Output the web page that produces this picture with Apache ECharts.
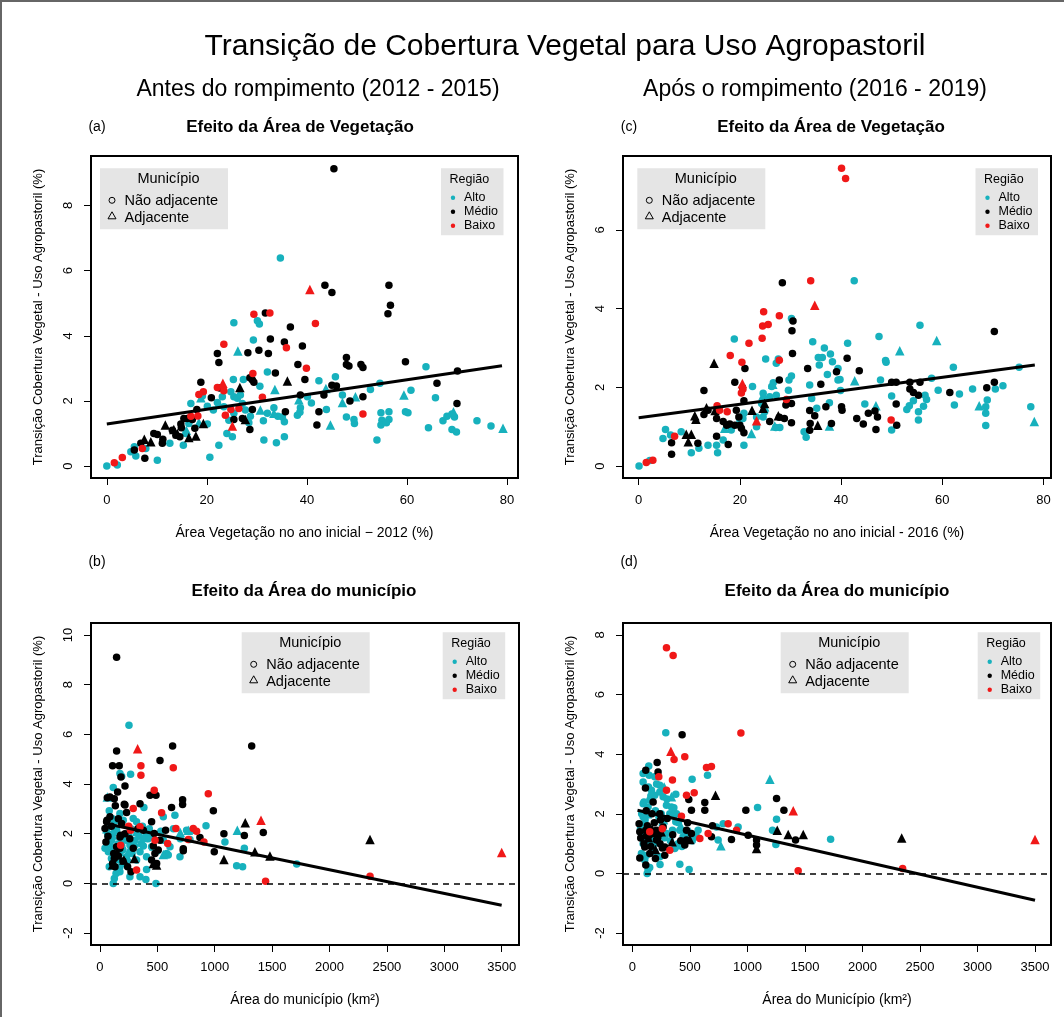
<!DOCTYPE html>
<html><head><meta charset="utf-8">
<script src="https://cdn.jsdelivr.net/npm/echarts@6/dist/echarts.min.js"></script>
<style>html,body{margin:0;padding:0;background:#fff}#c{width:1064px;height:1017px}</style>
</head><body><div id="c"></div><script>
// ---------- Panel (a): before, vegetation area (%) vs transition (%) ----------
var aAltoNA = [[34.7,6.39],[25.4,4.40],[30.1,4.46],[30.5,4.36],[29.3,3.87],[32.1,2.89],[25.3,2.66],[27.3,2.66],[30.6,2.45],[42.4,2.62],[45.7,2.74],[63.8,3.05],[54.6,2.54],[52.7,2.35],[60.8,2.33],[65.7,2.1],[40.9,1.94],[47.1,2.18],[38.7,1.79],[38.1,1.56],[38.6,1.65],[43.9,1.74],[40.1,2.13],[33.4,1.79],[32.1,1.62],[34.2,1.53],[35.5,1.36],[35.1,1.51],[31.3,1.39],[47.9,1.51],[49.4,1.43],[49.5,1.31],[54.8,1.64],[56.4,1.67],[55.0,1.41],[54.8,1.26],[56.4,1.43],[55.9,1.33],[59.7,1.67],[60.2,1.64],[54.0,0.8],[64.3,1.18],[67.2,1.39],[68.0,1.53],[69.0,1.6],[69.5,1.51],[69.0,1.12],[69.9,1.05],[74.0,1.39],[76.8,1.23],[31.4,0.8],[33.9,0.72],[35.5,0.9],[24.0,1.0],[25.1,0.9],[22.4,0.64],[20.6,0.27],[10.1,0.18],[5.8,0.31],[0,0],[2.1,0.03],[4.8,0.44],[5.5,0.59],[7.8,0.54],[12.6,0.7],[15.3,0.64],[16.4,1.31],[15.8,1.0],[16.8,1.92],[19.1,2.15],[20.1,1.84],[21.3,1.72],[22.1,1.95],[23.4,1.82],[23.1,2.13],[24.8,2.28],[25.4,2.13],[26.1,2.08],[26.7,2.18],[27.1,1.92],[25.4,1.62],[24.4,1.41],[28.4,1.33],[28.7,1.53],[20.1,1.29],[27.7,1.72]];
var aAltoA = [[26.2,3.53],[33.6,2.35],[30.7,1.72],[33.4,1.62],[38.4,2.04],[43.8,2.38],[47.1,1.95],[49.7,2.13],[59.4,2.18],[69.3,1.67],[79.2,1.16],[44.7,1.26],[18.8,2.1],[22.4,1.92],[15.9,1.1],[18.4,1.34]];
var aMedioNA = [[45.4,9.13],[43.6,5.55],[45.0,5.33],[56.4,5.55],[56.7,4.94],[56.2,4.68],[31.7,4.70],[36.7,4.27],[32.7,3.9],[35.5,3.81],[39.1,3.69],[30.4,3.56],[28.2,3.48],[32.3,3.46],[22.1,3.46],[22.4,3.18],[33.7,2.86],[38.2,3.12],[47.9,3.33],[47.9,3.12],[48.4,3.07],[50.8,3.12],[51.2,3.03],[59.7,3.2],[66.0,2.54],[70.1,2.92],[70.0,1.92],[39.6,2.66],[28.6,2.71],[29.1,2.64],[29.4,2.57],[18.8,2.57],[22.6,2.40],[20.9,2.1],[38.7,2.18],[43.4,2.18],[45.0,2.48],[45.9,2.46],[51.2,2.13],[48.6,2.0],[35.7,1.67],[29.1,1.74],[42.4,1.67],[42.0,1.26],[25.4,1.43],[27.1,1.46],[28.6,1.12],[18.0,1.74],[17.6,1.16],[14.8,1.29],[15.4,1.46],[16.1,1.46],[17.1,1.43],[11.2,0.82],[11.1,0.70],[10.1,0.97],[9.4,1.0],[5.5,0.49],[7.6,0.24],[6.8,0.70],[13.1,1.1],[13.8,0.95],[14.6,0.9],[14.9,1.18]];
var aMedioA = [[26.6,2.41],[36.1,2.61],[7.5,0.82],[8.8,0.75],[11.7,1.26],[13.4,1.12],[14.1,1.0],[17.8,0.92],[19.3,1.31],[16.4,0.88],[27.7,1.43]];
var aBaixoNA = [[32.6,4.70],[29.4,4.66],[41.7,4.38],[23.4,3.74],[35.9,3.63],[39.9,3.0],[29.2,2.84],[22.1,2.41],[23.4,2.31],[19.3,2.28],[18.4,2.2],[31.1,2.11],[26.4,1.77],[24.8,1.74],[23.7,1.56],[51.2,1.6],[18.2,1.54],[16.8,1.53],[1.5,0.1],[3.1,0.26],[7.1,0.54]];
var aBaixoA = [[40.6,5.42],[23.2,2.54],[25.1,1.23]];
var fitA = [[0,1.29],[79,3.08]];

// ---------- Panel (b): before, municipality area (km2) ----------
var bAltoNA = [[253,6.36],[267,4.39],[174,4.42],[189,4.31],[116,3.86],[383,3.05],[653,2.74],[552,2.68],[924,2.32],[1089,1.67],[1191,0.71],[1243,0.67],[1714,0.78],[1258,1.41],[81,2.92],[174,2.81],[203,2.54],[290,2.61],[319,2.48],[67,2.01],[102,1.74],[73,1.27],[81,0.67],[125,0.2],[174,0.67],[174,0.47],[261,0.27],[349,0.27],[400,0.16],[406,0.56],[488,0.0],[116,0.0],[406,1.07],[349,1.27],[450,1.47],[552,1.74],[581,1.2],[595,1.14],[610,1.47],[697,1.07],[784,1.77],[755,2.14],[813,2.14],[406,2.01],[378,1.5],[305,1.74],[261,1.54],[116,1.41],[174,1.2],[232,1.07],[145,2.14],[73,1.87],[116,2.01],[232,1.74],[87,1.54],[44,1.41],[145,1.07],[203,0.8],[319,0.94],[90,2.3],[130,2.5],[160,1.6],[200,1.35],[220,1.9],[250,2.0],[280,1.2],[340,1.9],[370,2.3],[430,2.2],[500,1.3],[530,2.1],[100,1.0],[60,1.6],[140,0.4],[240,0.9],[300,1.5],[360,1.6],[270,2.2],[190,1.5],[110,2.6],[420,1.8],[640,2.2],[700,1.8]];
var bAltoA = [[64,3.48],[1197,2.14],[770,2.14],[552,1.16],[378,1.85],[436,1.94],[150,1.0],[250,1.3],[320,2.1],[200,1.8],[470,1.5],[110,1.95],[60,2.2],[700,2.05],[300,1.65]];
var bMedioNA = [[145,9.1],[145,5.33],[633,5.53],[1322,5.53],[523,4.95],[110,4.73],[168,4.73],[183,4.28],[218,3.92],[154,3.68],[87,3.48],[125,3.41],[64,3.45],[349,3.21],[488,3.55],[436,3.55],[720,3.37],[720,3.17],[624,3.05],[988,2.92],[218,3.15],[232,2.85],[1080,2.0],[1258,1.93],[1423,2.05],[572,2.14],[871,1.85],[996,1.27],[726,1.39],[726,1.31],[189,2.41],[180,1.94],[87,2.68],[58,2.48],[44,2.21],[52,1.67],[174,1.41],[290,1.41],[450,2.48],[473,2.01],[465,1.5],[479,1.2],[450,0.94],[494,0.8],[131,0.67],[125,1.0],[145,1.47],[241,0.67],[270,0.47],[508,1.34],[523,1.74],[378,2.14],[174,1.87],[218,2.0],[134,3.12],[212,3.19],[61,2.54],[100,2.3],[120,1.2],[160,1.1],[200,0.9],[110,0.8],[260,1.8],[330,2.2],[70,1.9],[160,2.6]];
var bMedioA = [[2353,1.77],[1266,2.44],[1080,0.96],[1350,1.27],[1481,1.1],[209,0.94],[494,0.74],[465,0.8],[110,0.75],[150,1.25],[300,1.0]];
var bBaixoNA = [[357,4.73],[357,4.35],[639,4.65],[473,3.75],[944,3.61],[290,3.01],[537,2.84],[662,2.21],[813,2.21],[842,2.1],[590,1.61],[349,2.28],[319,0.54],[1443,0.09],[2353,0.29],[906,1.67],[267,2.14],[770,1.77],[180,1.53],[480,1.74],[250,2.3]];
var bBaixoA = [[328,5.42],[1403,2.54],[3500,1.24]];
var fitB = [[44,2.41],[3500,-0.88]];

// ---------- Panel (c): after, vegetation area (%) ----------
var cAltoNA = [[42.6,4.71],[55.6,3.58],[30.2,3.75],[34.4,3.16],[41.3,3.12],[47.5,3.29],[18.9,3.23],[36.7,3.0],[25.1,2.72],[27.6,2.72],[35.5,2.76],[36.3,2.76],[37.9,2.85],[38.3,2.65],[35.7,2.57],[27.2,2.61],[39.4,2.48],[37.3,2.33],[48.9,2.64],[48.8,2.68],[47.8,2.19],[39.8,2.2],[62.2,2.51],[75.2,2.51],[57.9,2.23],[59.2,1.93],[66.0,1.96],[63.4,1.83],[72.0,2.04],[70.5,1.96],[68.9,1.68],[68.6,1.51],[68.6,1.34],[68.6,1.03],[77.5,1.51],[62.4,1.55],[56.6,1.8],[56.9,1.69],[56.3,1.52],[55.3,1.38],[55.3,1.17],[54.3,1.66],[53.5,1.53],[53.0,1.44],[50.0,1.78],[50.0,0.92],[44.7,1.58],[39.9,1.92],[39.4,2.19],[33.8,2.06],[34.2,1.72],[35.2,1.47],[37.7,1.61],[32.7,0.87],[33.1,0.73],[29.7,2.19],[30.2,2.29],[29.6,1.93],[27.2,1.8],[26.6,2.12],[26.3,2.02],[25.9,1.76],[24.6,1.85],[22.5,2.02],[27.1,0.98],[27.9,0.98],[20.8,0.53],[20.6,1.21],[20.8,1.34],[20.0,1.17],[13.7,0.53],[15.6,0.34],[15.4,0.53],[10.4,0.34],[11.9,0.45],[8.4,0.87],[5.3,0.93],[6.3,0.79],[4.8,0.7],[0.07,0],[2.2,0.14],[16.7,0.66],[18.3,0.92],[23.3,1.0],[23.3,1.25],[24.6,1.25],[24.9,1.38],[24.3,1.59]];
var cAltoA = [[58.9,3.19],[51.6,2.93],[42.7,2.17],[46.9,1.53],[67.3,1.53],[78.2,1.13],[37.7,1.02],[26.9,1.02],[22.3,0.83],[17.0,0.96],[24.6,1.8],[24.9,1.51],[26.5,2.08]];
var cMedioNA = [[28.4,4.66],[30.5,3.69],[30.3,3.44],[30.4,2.86],[70.3,3.42],[41.2,2.74],[33.4,2.48],[21.0,2.48],[43.6,2.42],[39.1,2.40],[27.8,2.19],[19.0,2.13],[12.9,1.92],[20.5,2.0],[36.0,2.08],[50.0,2.13],[50.9,2.13],[53.6,2.13],[55.6,2.13],[70.3,2.13],[68.8,1.99],[61.5,1.87],[53.6,1.96],[54.3,1.87],[55.3,1.8],[20.8,1.66],[29.1,1.55],[30.2,1.59],[50.9,1.58],[37.0,1.51],[40.1,1.51],[40.2,1.42],[33.8,1.41],[34.8,1.28],[45.4,1.34],[46.7,1.4],[47.2,1.25],[43.1,1.21],[44.4,1.07],[46.9,0.93],[51.0,1.04],[38.1,1.08],[33.9,1.08],[33.8,0.91],[30.2,1.1],[27.8,1.24],[28.8,1.21],[25.9,1.13],[15.4,1.21],[15.4,0.76],[12.9,1.31],[13.7,1.42],[11.7,0.58],[6.5,0.59],[6.5,0.3],[17.7,0.55],[16.7,1.13],[17.4,1.04],[18.0,1.07],[19.0,1.04],[20.3,0.96],[20.8,0.85],[20.0,1.04],[19.3,1.42],[19.8,1.25]];
var cMedioA = [[14.9,2.61],[13.4,1.48],[11.1,1.28],[11.3,1.19],[9.4,0.81],[10.4,0.81],[9.8,0.62],[22.4,1.42],[24.6,1.47],[24.9,1.59],[27.6,1.28],[35.4,1.04],[15.1,1.41]];
var cBaixoNA = [[40.1,7.57],[40.9,7.31],[34.0,4.71],[24.7,3.92],[27.8,3.82],[25.6,3.6],[24.5,3.56],[24.4,3.25],[21.8,3.12],[18.1,2.81],[20.4,2.64],[20.6,1.95],[20.3,1.86],[49.9,1.17],[1.5,0.09],[2.8,0.15],[7.1,0.76],[16.0,1.42],[15.5,1.53],[17.5,1.38],[29.2,1.69],[27.8,2.69]];
var cBaixoA = [[34.8,4.09],[20.5,2.1],[23.3,1.15]];
var fitC = [[0,1.23],[78.3,2.57]];

// ---------- Panel (d): after, municipality area (km2) ----------
var dAltoNA = [[290,4.72],[142,3.6],[519,3.16],[653,3.29],[377,2.66],[1088,2.21],[1253,1.82],[1218,1.45],[1247,0.97],[1723,1.15],[919,1.56],[412,0.31],[493,0.13],[128,0.0],[136,0.13],[107,0.45],[78,0.67],[122,2.0],[136,2.23],[151,2.46],[194,2.62],[238,2.73],[267,2.57],[165,2.79],[93,2.34],[93,1.9],[107,1.67],[78,1.34],[93,1.0],[151,1.0],[194,0.73],[238,0.56],[296,1.34],[348,1.45],[377,1.73],[383,2.0],[325,2.0],[339,2.23],[296,2.29],[368,0.84],[397,1.0],[441,1.23],[412,1.45],[557,1.23],[571,1.45],[745,1.12],[789,1.67],[731,1.56],[238,2.96],[194,3.24],[93,3.07],[145,3.29],[93,3.35],[110,1.8],[140,1.5],[170,1.2],[200,2.1],[230,1.9],[260,1.6],[180,0.8],[120,0.6],[100,2.4],[160,2.6],[210,3.0],[280,1.2],[300,2.5],[250,2.0],[140,2.9],[190,1.0],[400,1.7],[430,0.9],[520,1.1],[460,1.3],[70,1.5],[80,2.0],[330,1.1],[360,2.2],[380,0.9],[240,0.3],[150,0.2]];
var dAltoA = [[1195,3.16],[276,2.9],[769,0.93],[339,2.57],[200,1.35],[130,2.0],[270,1.8],[420,1.6],[160,1.1],[350,2.0],[90,1.25],[500,1.4]];
var dMedioNA = [[432,4.65],[215,3.72],[116,3.46],[223,3.40],[113,2.87],[1253,2.51],[629,2.38],[490,2.48],[629,2.12],[513,2.12],[986,2.12],[1317,2.12],[180,2.4],[696,1.6],[687,1.23],[861,1.14],[1006,1.28],[1079,1.12],[1418,1.12],[1079,0.95],[58,1.67],[64,1.4],[72,1.19],[64,0.52],[116,0.28],[281,0.61],[281,0.89],[302,1.84],[238,2.0],[209,1.45],[180,1.34],[136,1.23],[116,1.45],[209,1.12],[238,1.34],[470,1.45],[470,1.12],[513,1.34],[455,0.95],[107,0.89],[151,0.67],[244,1.79],[267,1.56],[100,1.0],[130,1.6],[160,0.9],[190,1.7],[220,1.2],[260,0.85],[120,2.1],[350,1.3],[420,1.1],[480,1.7],[200,0.5],[150,1.3],[170,2.0],[240,1.0]];
var dMedioA = [[2341,1.19],[722,2.62],[1259,1.45],[1354,1.31],[1485,1.31],[1079,0.84],[345,1.06],[499,1.14],[110,1.3],[170,1.5],[200,0.8],[250,1.4],[140,1.2]];
var dBaixoNA = [[296,7.57],[354,7.31],[943,4.71],[362,3.82],[455,3.91],[644,3.55],[687,3.59],[348,3.13],[229,3.24],[296,2.79],[470,2.62],[537,2.71],[426,1.92],[586,1.17],[832,1.67],[658,1.34],[1441,0.09],[2349,0.17],[325,0.78],[905,1.45],[150,1.4],[260,1.5]];
var dBaixoA = [[334,4.1],[1398,2.1],[3500,1.14]];
var fitD = [[44,2.12],[3500,-0.9]];

// ---------- tick labels / text ----------
var ticksVeg = [0,20,40,60,80];
var ticksArea = [0,500,1000,1500,2000,2500,3000,3500];
var ticksYa = [0,2,4,6,8];
var ticksYc = [0,2,4,6];
var ticksYb = [-2,0,2,4,6,8,10];
var ticksYd = [-2,0,2,4,6,8];
var yTitle = 'Transição Cobertura Vegetal - Uso Agropastoril (%)';

var COL = {alto:'#17b1bd', medio:'#000000', baixo:'#f01818'};
var FONT = 'Liberation Sans, Arial, sans-serif';

var grids = [
  {left:91, top:156, width:427, height:322},
  {left:91, top:623, width:428, height:322},
  {left:623, top:156, width:428, height:322},
  {left:623, top:623, width:428, height:322}
];
function plain(v){ return String(v); }
function xAx(i, min, max, ticks, name){
  return {gridIndex:i, type:'value', min:min, max:max, name:name, nameLocation:'middle', nameGap:48,
    nameTextStyle:{fontSize:14, color:'#000', fontFamily:FONT},
    axisLine:{show:false, onZero:false}, splitLine:{show:false},
    axisTick:{show:true, inside:false, length:7, customValues:ticks, lineStyle:{color:'#000', width:1}},
    axisLabel:{customValues:ticks, fontSize:13, color:'#000', margin:16, fontFamily:FONT, formatter:plain}};
}
function yAx(i, min, max, ticks){
  return {gridIndex:i, type:'value', min:min, max:max, name:yTitle, nameLocation:'middle', nameGap:46, nameRotate:90,
    nameTextStyle:{fontSize:13, color:'#000', fontFamily:FONT},
    axisLine:{show:false, onZero:false}, splitLine:{show:false},
    axisTick:{show:true, inside:false, length:7, customValues:ticks, lineStyle:{color:'#000', width:1}},
    axisLabel:{customValues:ticks, fontSize:13, color:'#000', rotate:90, margin:16, fontFamily:FONT, formatter:plain}};
}
function sc(i, data, color, shape){
  return {type:'scatter', xAxisIndex:i, yAxisIndex:i, data:data, symbol:shape,
    symbolSize: shape==='circle'?7.5:9.5, itemStyle:{color:color, opacity:1}, z:2, silent:true};
}
function panel(i, an, aa, mn, ma, bn, ba, fit, dashed){
  var s = [sc(i,an,COL.alto,'circle'), sc(i,aa,COL.alto,'triangle'),
           sc(i,mn,COL.medio,'circle'), sc(i,ma,COL.medio,'triangle'),
           sc(i,bn,COL.baixo,'circle'), sc(i,ba,COL.baixo,'triangle')];
  var ln = {type:'line', xAxisIndex:i, yAxisIndex:i, data:fit, symbol:'none', z:5, silent:true,
    lineStyle:{color:'#000', width:3}};
  if (dashed) ln.markLine = {silent:true, symbol:['none','none'], label:{show:false},
    lineStyle:{color:'#000', width:1.5, type:[6,5]}, data:[{yAxis:0}]};
  s.push(ln);
  return s;
}
var series = [].concat(
  panel(0, aAltoNA, aAltoA, aMedioNA, aMedioA, aBaixoNA, aBaixoA, fitA, false),
  panel(1, bAltoNA, bAltoA, bMedioNA, bMedioA, bBaixoNA, bBaixoA, fitB, true),
  panel(2, cAltoNA, cAltoA, cMedioNA, cMedioA, cBaixoNA, cBaixoA, fitC, false),
  panel(3, dAltoNA, dAltoA, dMedioNA, dMedioA, dBaixoNA, dBaixoA, fitD, true)
);

function txt(x, y, t, size, opts){
  opts = opts || {};
  return {type:'text', z:10, silent:true, style:{x:x, y:y, text:t, fontSize:size, fontFamily:FONT,
    fontWeight:opts.bold?'bold':'normal', fill:'#000', textAlign:opts.align||'center', textVerticalAlign:'middle'}};
}
function legends(mx, my, rx, ry){
  var g = [];
  g.push({type:'rect', z:8, silent:true, shape:{x:mx, y:my, width:128, height:61}, style:{fill:'#e5e5e5'}});
  g.push(txt(mx+68.5, my+11, 'Município', 14.5));
  g.push({type:'circle', z:9, silent:true, shape:{cx:mx+12, cy:my+32, r:3}, style:{fill:'none', stroke:'#000', lineWidth:1}});
  g.push({type:'polygon', z:9, silent:true, shape:{points:[[mx+12,my+43.5],[mx+16,my+50.5],[mx+8,my+50.5]]}, style:{fill:'none', stroke:'#000', lineWidth:1}});
  g.push(txt(mx+24.5, my+33, 'Não adjacente', 14.5, {align:'left'}));
  g.push(txt(mx+24.5, my+50, 'Adjacente', 14.5, {align:'left'}));
  g.push({type:'rect', z:8, silent:true, shape:{x:rx, y:ry, width:62.5, height:67}, style:{fill:'#e5e5e5'}});
  g.push(txt(rx+8.5, ry+11, 'Região', 12.5, {align:'left'}));
  var items = [['Alto',COL.alto],['Médio',COL.medio],['Baixo',COL.baixo]];
  for (var k=0;k<3;k++){
    var yy = ry+29.5+k*14;
    g.push({type:'circle', z:9, silent:true, shape:{cx:rx+12, cy:yy, r:2.2}, style:{fill:items[k][1]}});
    g.push(txt(rx+23, yy, items[k][0], 12.5, {align:'left'}));
  }
  return g;
}

var graphic = [
  {type:'line', silent:true, shape:{x1:0, y1:1, x2:1064, y2:1}, style:{stroke:'#666', lineWidth:2}},
  {type:'line', silent:true, shape:{x1:1, y1:0, x2:1, y2:1017}, style:{stroke:'#666', lineWidth:2}},
  txt(565, 47, 'Transição de Cobertura Vegetal para Uso Agropastoril', 30),
  txt(318, 90, 'Antes do rompimento (2012 - 2015)', 23),
  txt(815, 90, 'Após o rompimento (2016 - 2019)', 23),
  txt(97, 127, '(a)', 14),
  txt(300, 127, 'Efeito da Área de Vegetação', 17, {bold:true}),
  txt(629, 127, '(c)', 14),
  txt(831, 127, 'Efeito da Área de Vegetação', 17, {bold:true}),
  txt(97, 562, '(b)', 14),
  txt(304, 591, 'Efeito da Área do município', 17, {bold:true}),
  txt(629, 562, '(d)', 14),
  txt(837, 591, 'Efeito da Área do município', 17, {bold:true})
].concat(legends(100,168.3,441,168.3), legends(241.7,632.3,442.7,632.3),
         legends(637.3,168.3,975.5,168.3), legends(780.7,632.3,977.7,632.3));

var chart = echarts.init(document.getElementById('c'), null, {renderer:'canvas'});
chart.setOption({
  animation:false,
  backgroundColor:'#fff',
  textStyle:{fontFamily:FONT},
  grid: grids.map(function(g){ return Object.assign({show:true, borderColor:'#000', borderWidth:2, backgroundColor:'transparent', containLabel:false}, g); }),
  xAxis:[
    xAx(0, -3.16, 82.2, ticksVeg, 'Área Vegetação no ano inicial − 2012 (%)'),
    xAx(1, -78, 3651, ticksArea, 'Área do município (km²)'),
    xAx(2, -3.1, 81.5, ticksVeg, 'Área Vegetação no ano inicial - 2016 (%)'),
    xAx(3, -82, 3639, ticksArea, 'Área do Município (km²)')
  ],
  yAxis:[
    yAx(0, -0.366, 9.52, ticksYa),
    yAx(1, -2.48, 10.48, ticksYb),
    yAx(2, -0.303, 7.88, ticksYc),
    yAx(3, -2.4, 8.4, ticksYd)
  ],
  series: series,
  graphic: graphic
});
</script></body></html>
